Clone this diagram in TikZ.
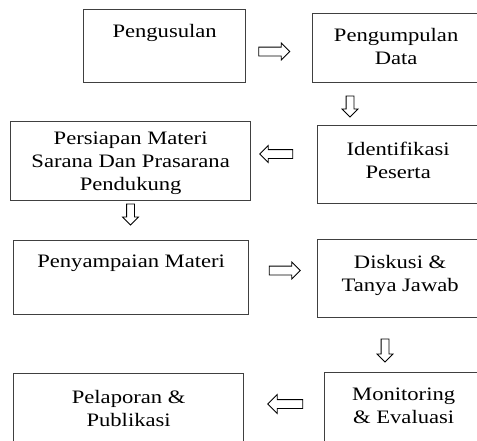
\documentclass[tikz,border=0pt]{standalone}
\usepackage{fontspec}
\setmainfont{Liberation Serif}[FakeStretch=1.19]
\usetikzlibrary{shapes.arrows}
\begin{document}
\begin{tikzpicture}[x=1pt,y=-1pt,
    box/.style={draw=black!75,line width=1.3pt,anchor=north west,align=center,inner sep=0pt,
      font=\fontsize{19}{23}\selectfont},
    blockarrow/.style={single arrow,draw,line width=0.8pt,inner xsep=0pt,inner ysep=4pt,minimum width=0pt,
      single arrow head extend=4pt,minimum height=31pt},
    downarrow/.style={blockarrow,shape border rotate=270,inner xsep=3.5pt,inner ysep=0pt,minimum height=21pt}]
                \useasboundingbox (0,0) rectangle (477,440);
                \clip (0,0) rectangle (477,440);
                %the boxes of the flow
                \node[box,minimum width=162,minimum height=73,text depth=30pt] (usul) at (83,9) {Pengusulan};
                \node[box,minimum width=167,minimum height=69,text depth=4pt] (data) at (312,13) {Pengumpulan\\Data};
                \node[box,minimum width=240,minimum height=79,text depth=0pt] (siap) at (10,121) {Persiapan Materi\\Sarana Dan Prasarana\\Pendukung};
                \node[box,minimum width=161,minimum height=78,text depth=9pt] (peserta) at (317,125) {Identifikasi\\Peserta};
                \node[box,minimum width=235,minimum height=74,text depth=32pt] (materi) at (13,240) {Penyampaian Materi};
                \node[box,minimum width=165,minimum height=78,text depth=10pt] (diskusi) at (317,239) {Diskusi \&\\Tanya Jawab};
                \node[box,minimum width=230,minimum height=75,text depth=6pt] (lapor) at (13,373) {Pelaporan \&\\Publikasi};
                \node[box,minimum width=158,minimum height=75,text depth=8pt] (monev) at (324,372) {Monitoring\\\& Evaluasi};
                %the hollow arrows between them
                \node[blockarrow] (a1) at (272,51.5) {};
                \node[downarrow] (a2) at (350,104.5) {};
                \node[blockarrow,shape border rotate=180,minimum height=33pt] (a3) at (278.5,154) {};
                \node[downarrow] (a4) at (130.5,212.5) {};
                \node[blockarrow] (a5) at (282.5,270.5) {};
                \node[downarrow,minimum height=23pt] (a6) at (385,348.5) {};
                \node[blockarrow,shape border rotate=180,minimum height=35pt,single arrow head extend=5pt] (a7) at (287.5,404) {};
                \end{tikzpicture}
\end{document}
